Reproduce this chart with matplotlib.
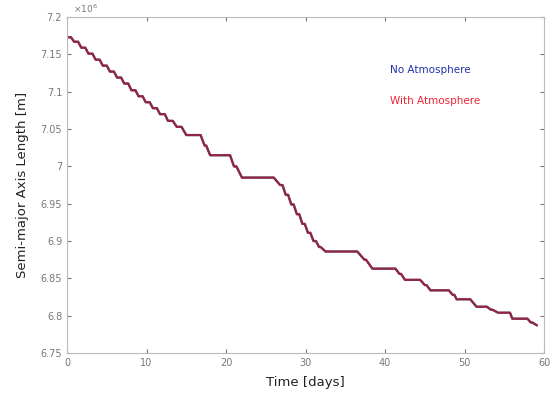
import matplotlib
matplotlib.use("Agg")
import matplotlib.pyplot as plt
from matplotlib.ticker import FuncFormatter

# Plateaus of the staircase: start day, end day, semi-major axis [m]
plateau_start = [0.0, 0.9, 1.8, 2.7, 3.6, 4.5, 5.4, 6.3, 7.2, 8.1, 9.0, 9.9, 10.8, 11.7,
                 12.7, 13.8, 15.0, 17.3, 18.0, 21.0, 22.0, 26.8, 27.5, 28.2, 28.9, 29.6,
                 30.3, 31.0, 31.7, 32.5, 37.4, 38.4, 41.8, 42.5, 45.0, 45.7, 48.5, 49.0,
                 51.5, 53.3, 54.2, 56.0, 58.3, 59.1]
plateau_end = [0.5, 1.4, 2.3, 3.2, 4.1, 5.0, 5.9, 6.8, 7.7, 8.6, 9.5, 10.4, 11.3, 12.3,
               13.3, 14.4, 16.8, 17.5, 20.5, 21.3, 26.0, 27.1, 27.8, 28.5, 29.2, 29.9,
               30.6, 31.3, 31.9, 36.5, 37.6, 41.3, 42.0, 44.4, 45.2, 48.0, 48.7, 50.7,
               52.8, 53.5, 55.7, 57.9, 58.5, 59.1]
sma_no_atm = [7.173e6, 7.167e6, 7.159e6, 7.151e6, 7.143e6, 7.135e6, 7.127e6, 7.119e6,
              7.111e6, 7.102e6, 7.094e6, 7.086e6, 7.078e6, 7.070e6, 7.061e6, 7.053e6,
              7.042e6, 7.028e6, 7.015e6, 7.000e6, 6.985e6, 6.975e6, 6.962e6, 6.949e6,
              6.936e6, 6.923e6, 6.911e6, 6.900e6, 6.892e6, 6.886e6, 6.875e6, 6.863e6,
              6.856e6, 6.848e6, 6.841e6, 6.834e6, 6.828e6, 6.822e6, 6.812e6, 6.808e6,
              6.804e6, 6.796e6, 6.791e6, 6.787e6]
sma_with_atm = list(sma_no_atm)

xticks = [0, 10, 20, 30, 40, 50, 60]
yticks = [6.75e6, 6.8e6, 6.85e6, 6.9e6, 6.95e6, 7.0e6, 7.05e6, 7.1e6, 7.15e6, 7.2e6]

def stairs(starts, ends, vals):
    t, a = [], []
    for s, e, v in zip(starts, ends, vals):
        t += [s, e]
        a += [v, v]
    return t, a

fig = plt.figure(figsize=(5.51, 3.98), dpi=100)
ax = fig.add_axes([0.1216, 0.113, 0.866, 0.844])

t1, a1 = stairs(plateau_start, plateau_end, sma_no_atm)
t2, a2 = stairs(plateau_start, plateau_end, sma_with_atm)
ax.plot(t1, a1, color="#1a237e", lw=1.6, solid_capstyle="round")
ax.plot(t2, a2, color="#c62828", lw=1.6, alpha=0.7, solid_capstyle="round")

ax.set_xlim(0, 60)
ax.set_ylim(6.75e6, 7.2e6)
ax.set_xticks(xticks)
ax.set_yticks(yticks)
ax.yaxis.set_major_formatter(FuncFormatter(lambda v, p: "%g" % round(v / 1e6, 4)))
ax.text(0.012, 1.005, r"$\times10^{6}$", transform=ax.transAxes, fontsize=6.5,
        color="#777777", va="bottom", ha="left")

ax.tick_params(direction="in", length=3, labelsize=7, colors="#777777",
               top=True, right=True)
for sp in ax.spines.values():
    sp.set_color("#bbbbbb")
    sp.set_linewidth(0.8)

ax.set_xlabel("Time [days]", fontsize=9.5, color="#222222", labelpad=6)
ax.set_ylabel("Semi-major Axis Length [m]", fontsize=9.5, color="#222222", labelpad=8)

ax.text(0.677, 0.842, "No Atmosphere", transform=ax.transAxes, color="#2233aa",
        fontsize=7.5, va="center")
ax.text(0.677, 0.75, "With Atmosphere", transform=ax.transAxes, color="#ee2233",
        fontsize=7.5, va="center")

fig.savefig("out.png", dpi=100)
